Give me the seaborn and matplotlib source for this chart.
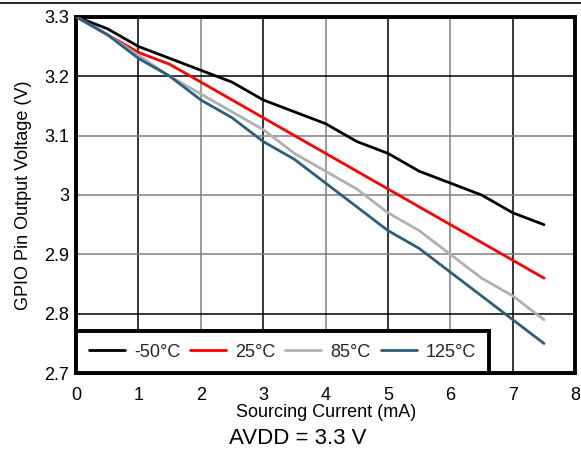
import numpy as np
import pandas as pd
import seaborn as sns
import matplotlib
matplotlib.use("Agg")
import matplotlib.pyplot as plt
from matplotlib.lines import Line2D

current = [0, 0.5, 1, 1.5, 2, 2.5, 3, 3.5, 4, 4.5, 5, 5.5, 6, 6.5, 7, 7.5]
v_m50 = [3.30, 3.28, 3.25, 3.23, 3.21, 3.19, 3.16, 3.14, 3.12, 3.09, 3.07, 3.04, 3.02, 3.00, 2.97, 2.95]
v_25 = [3.30, 3.27, 3.24, 3.22, 3.19, 3.16, 3.13, 3.10, 3.07, 3.04, 3.01, 2.98, 2.95, 2.92, 2.89, 2.86]
v_85 = [3.30, 3.27, 3.235, 3.20, 3.17, 3.14, 3.11, 3.07, 3.04, 3.01, 2.97, 2.94, 2.90, 2.86, 2.83, 2.79]
v_125 = [3.30, 3.27, 3.23, 3.20, 3.16, 3.13, 3.09, 3.06, 3.02, 2.98, 2.94, 2.91, 2.87, 2.83, 2.79, 2.75]
series_names = ["-50°C", "25°C", "85°C", "125°C"]
series_colors = ["#000000", "#ff0000", "#b0b0b0", "#2c5f7c"]
x_ticks = [0, 1, 2, 3, 4, 5, 6, 7, 8]
y_ticks = [2.7, 2.8, 2.9, 3.0, 3.1, 3.2, 3.3]
y_tick_labels = ["2.7", "2.8", "2.9", "3", "3.1", "3.2", "3.3"]

rows = []
for name, vals in zip(series_names, [v_m50, v_25, v_85, v_125]):
    for c, v in zip(current, vals):
        rows.append({"current": c, "voltage": v, "temp": name})
df = pd.DataFrame(rows)

sns.set_theme(style="white")
plt.rcParams["font.family"] = ["Liberation Sans", "DejaVu Sans"]

fig = plt.figure(figsize=(5.81, 4.54), dpi=100)
ax = fig.add_axes([0.131, 0.178, 0.859, 0.785])

# grid lines (alternating black / gray)
for i, xv in enumerate(x_ticks[1:-1]):
    ax.axvline(xv, color="black" if i % 2 == 0 else "#808080", lw=1.1, zorder=0)
hcols = {2.8: "black", 2.9: "#808080", 3.0: "#808080", 3.1: "#808080", 3.2: "black"}
for yv, col in hcols.items():
    ax.axhline(yv, color=col, lw=1.1, zorder=0)

sns.lineplot(data=df, x="current", y="voltage", hue="temp", hue_order=series_names,
             palette=series_colors, linewidth=2, ax=ax, legend=False, zorder=3)

ax.set_xlim(0, 8)
ax.set_ylim(2.7, 3.3)
ax.set_xticks(x_ticks)
ax.set_yticks(y_ticks)
ax.set_yticklabels(y_tick_labels)
ax.tick_params(axis="both", labelsize=13, length=0, colors="black")
ax.tick_params(axis="x", pad=10)
ax.tick_params(axis="y", pad=5)
for s in ax.spines.values():
    s.set_linewidth(2.8)
    s.set_color("black")

ax.set_xlabel("Sourcing Current (mA)", fontsize=13, labelpad=0, color="black")
ax.set_ylabel("GPIO Pin Output Voltage (V)", fontsize=13, labelpad=9, color="black")

handles = [Line2D([0], [0], color=c, lw=2) for c in series_colors]
leg = ax.legend(handles, series_names, loc="lower left", ncol=4, fontsize=13,
                frameon=True, fancybox=False, borderaxespad=0, handlelength=2.0,
                columnspacing=0.55, handletextpad=0.5, borderpad=0.7)
leg.get_frame().set_edgecolor("black")
leg.get_frame().set_linewidth(2.8)
leg.get_frame().set_facecolor("white")
leg.get_frame().set_alpha(1)
leg.set_zorder(5)

fig.text(0.513, 0.035, "AVDD = 3.3 V", ha="center", va="center", fontsize=16, color="black")
fig.add_artist(Line2D([0, 1], [0.993, 0.993], color="black", lw=1.2, transform=fig.transFigure))

fig.savefig("out.png", dpi=100)
